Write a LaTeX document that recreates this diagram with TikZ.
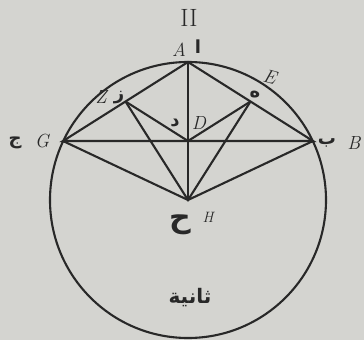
\documentclass[tikz,border=0pt]{standalone}
\usepackage{fontspec}
\newfontfamily\arabicfont[Script=Arabic]{DejaVu Sans}
\TeXXeTstate=1
\usetikzlibrary{calc}
\definecolor{paper}{RGB}{212,212,208}
\definecolor{ink}{RGB}{40,40,40}

\begin{document}
\begin{tikzpicture}[x=1pt,y=-1pt,line width=2.1pt,
  lat/.style={text=ink,font=\fontsize{19}{21}\selectfont\itshape,inner sep=0pt},
  ar/.style={text=ink,font=\fontsize{18}{20}\selectfont\arabicfont\bfseries,inner sep=0pt}]
  \fill[paper] (0,0) rectangle (364,340);
  \useasboundingbox (0,0) rectangle (364,340);
  \coordinate (H) at (188,200);
  \coordinate (A) at (188,62);
  \coordinate (G) at (63,141);
  \coordinate (B) at (313,141);
  \coordinate (D) at (188,141);
  \coordinate (Z) at ($(G)!0.5!(A)$);
  \coordinate (E) at ($(A)!0.5!(B)$);
  \draw[ink] (H) circle[radius=138pt];
  \draw[ink] (G)--(A)--(B)--cycle;
  \draw[ink] (A)--(H);
  \draw[ink] (G)--(H)--(B);
  \draw[ink] (Z)--(H)--(E);
  \draw[ink] (Z)--(D)--(E);
  % labels
  \node[text=ink,font=\fontsize{25}{27}\selectfont] (num) at (189,18) {II};
  \node[lat] (lA) at (179,50) {A};
  \node[ar] (aA) at (198,47) {ا};
  \node[lat] (lZ) at (101,97) {Z};
  \node[ar] (aZ) at (119,98) {ز};
  \node[lat,rotate=-15] (lE) at (270,77) {E};
  \node[ar] (aE) at (255,95) {ه};
  \node[lat] (lD) at (199,123) {D};
  \node[ar] (aD) at (175,123) {د};
  \node[lat] (lG) at (42,141) {G};
  \node[ar] (aG) at (15,143) {ج};
  \node[lat] (lB) at (354,143) {B};
  \node[ar] (aB) at (327,143) {ب};
  \node[lat,font=\fontsize{15}{17}\selectfont\itshape] (lH) at (208,217) {H};
  \node[ar,font=\fontsize{30}{32}\selectfont\arabicfont\bfseries] (aH) at (180,225) {ح};
  \node[ar,font=\fontsize{20}{22}\selectfont\arabicfont\bfseries] (title) at (190,298) {\beginR ثانية\endR};
\end{tikzpicture}
\end{document}
